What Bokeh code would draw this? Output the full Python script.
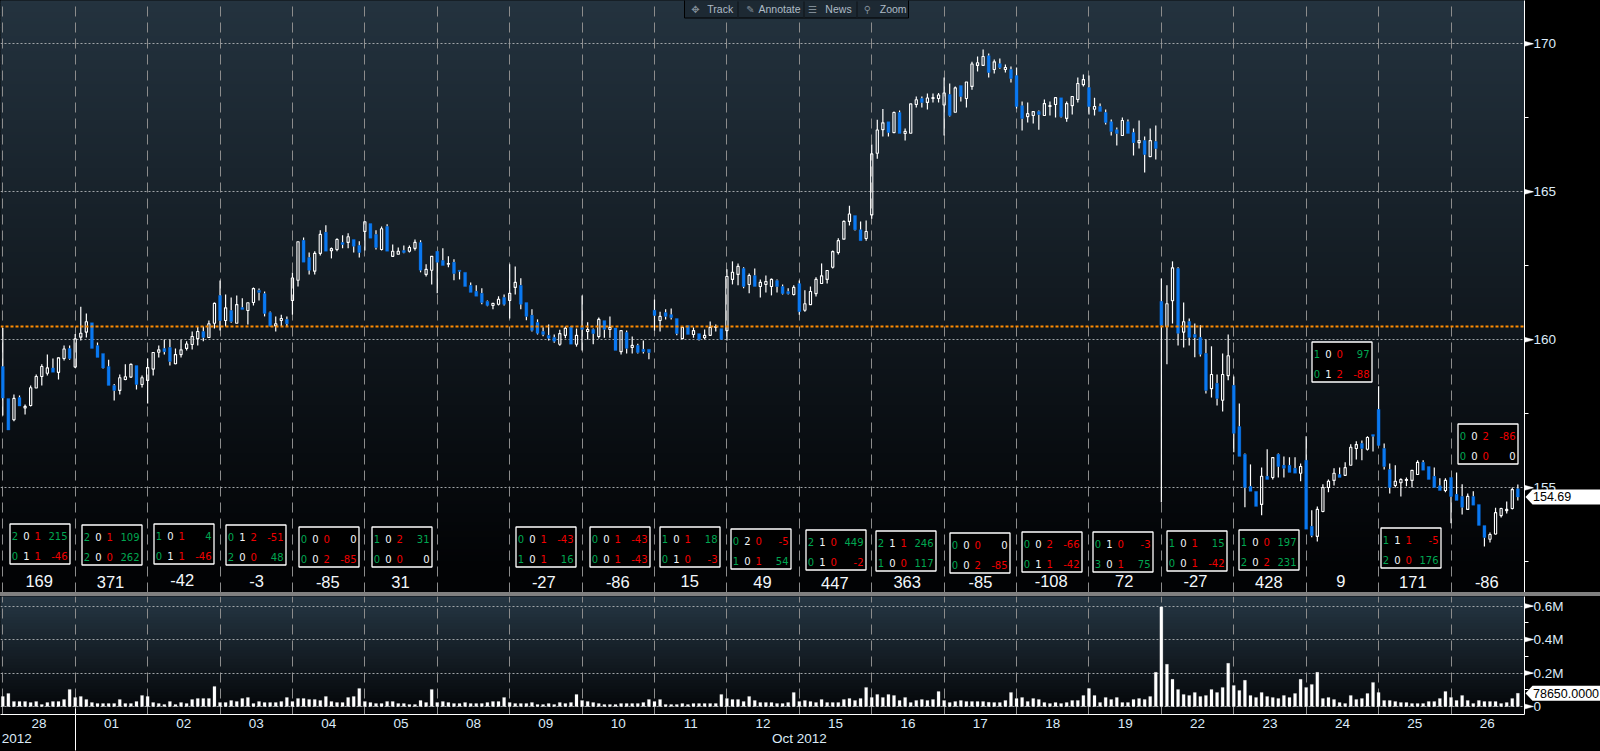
from bokeh.plotting import figure
from bokeh.models import (FixedTicker, Range1d, Span, Spacer, LinearAxis)
from bokeh.layouts import column
from bokeh.core.properties import value
from bokeh.embed import file_html
from bokeh.resources import INLINE

# ---------- data ----------
days = ["28","01","02","03","04","05","08","09","10","11","12","15","16","17","18","19","22","23","24","25","26"]

opens = [
159.10,158.02,157.30,158.05,157.70,157.78,158.37,158.76,158.87,159.05,158.90,159.37,159.71,
159.08,160.09,160.26,160.58,159.81,159.54,159.10,158.46,158.29,158.66,158.74,159.13,158.49,
158.63,159.01,159.58,159.71,159.74,159.19,159.50,159.71,159.84,160.04,160.28,160.08,160.56,
161.50,160.65,160.99,160.56,161.09,160.99,161.26,161.67,161.56,160.92,160.47,160.65,160.69,
161.33,162.01,163.36,162.78,162.32,162.92,163.63,163.01,163.05,163.29,163.29,163.39,163.19,
163.66,163.93,163.56,163.05,163.83,162.82,162.89,163.02,162.99,163.09,163.29,162.21,162.35,
162.99,162.68,162.55,162.62,162.35,162.28,161.84,161.64,161.57,161.30,161.16,161.20,161.43,
161.33,161.77,161.84,161.26,160.83,160.59,160.28,160.15,160.08,159.85,160.15,160.43,159.85,
160.42,160.28,160.35,160.11,160.65,160.35,160.40,159.60,160.25,159.74,159.81,159.68,159.68,
161.00,160.65,160.92,160.85,160.72,160.04,160.48,160.18,160.21,160.07,160.15,160.42,160.38,
160.31,162.04,162.21,162.41,161.87,162.17,161.80,161.87,161.80,162.00,161.80,161.63,161.53,
161.90,161.00,161.19,161.56,161.90,162.04,162.45,162.95,163.40,164.00,164.20,163.72,163.42,
164.22,166.30,167.10,167.37,167.00,167.68,166.97,166.98,167.95,168.15,168.02,168.15,168.15,
167.93,168.29,167.69,168.59,168.15,168.56,169.27,169.27,169.60,169.13,169.33,169.13,169.13,
168.93,167.91,167.54,167.58,167.71,167.58,167.88,167.95,168.18,167.48,167.91,168.12,168.62,
168.52,167.79,167.88,167.68,167.37,167.10,166.90,167.37,167.00,166.66,166.73,166.19,166.70,
161.30,160.45,161.32,162.41,160.26,160.62,160.18,160.08,159.54,158.35,158.53,157.96,158.79,
158.46,157.07,156.13,155.05,154.88,154.44,155.39,155.35,156.13,155.76,155.76,155.66,155.49,
155.93,153.70,153.36,154.20,155.01,155.25,155.45,155.42,155.76,156.33,156.50,156.30,156.80,
157.65,156.33,155.62,155.08,155.17,155.25,155.25,155.45,155.86,155.72,155.39,155.07,154.91,
155.35,154.78,154.71,154.27,154.71,154.44,153.73,153.26,153.44,154.06,154.23,154.30,154.97]

highs = [
160.40,158.02,158.15,158.12,157.81,158.46,158.83,159.17,159.50,159.37,159.41,159.81,159.81,
160.20,161.12,160.89,160.58,159.91,159.54,159.33,158.51,158.83,159.17,159.20,159.13,158.79,
159.37,159.57,159.81,160.01,160.01,159.71,160.00,159.95,160.28,160.43,160.45,160.65,161.26,
162.00,161.53,161.43,161.50,161.40,161.25,161.77,161.73,161.63,160.96,160.79,160.85,160.79,
162.27,163.31,163.46,162.95,162.99,163.70,163.87,163.12,163.43,163.53,163.60,163.39,163.33,
163.99,163.93,163.70,163.83,163.90,163.22,163.12,163.19,163.19,163.39,163.36,162.55,162.82,
162.99,163.09,162.82,162.72,162.35,162.28,161.94,161.84,161.74,161.33,161.23,161.47,161.53,
162.55,162.48,162.08,161.26,161.03,160.69,160.42,160.52,160.18,160.34,160.45,160.45,160.38,
161.50,160.59,160.38,160.75,160.65,160.79,160.40,160.31,160.31,160.11,159.87,159.98,159.68,
161.36,160.95,161.03,161.06,160.72,160.45,160.48,160.42,160.21,160.35,160.62,160.52,160.38,
162.38,162.65,162.58,162.45,162.24,162.41,162.04,162.17,162.07,162.04,161.87,161.74,161.84,
162.00,161.67,161.80,162.11,162.58,162.34,163.02,163.43,164.03,164.53,164.20,164.00,164.03,
166.60,167.43,167.80,167.37,167.71,167.75,167.14,167.97,168.22,168.22,168.32,168.32,168.34,
168.86,168.66,168.56,168.59,168.71,169.39,169.57,169.81,169.67,169.47,169.50,169.30,169.23,
169.20,168.05,168.02,167.71,167.75,168.12,168.05,168.18,168.18,168.05,168.22,168.86,168.96,
168.93,168.18,167.98,167.78,167.44,167.17,167.51,167.44,167.14,167.41,166.87,167.14,167.24,
162.07,161.84,162.65,162.45,161.26,160.72,160.55,160.49,160.01,159.78,158.83,159.54,160.18,
158.76,157.85,156.16,155.79,154.88,155.69,156.30,156.02,156.16,156.06,156.03,156.03,155.82,
156.74,154.24,154.37,155.12,155.28,155.66,155.69,155.86,156.47,156.57,156.60,156.74,156.80,
158.43,156.50,155.82,155.76,155.32,155.35,155.59,155.93,155.93,155.72,155.69,155.32,155.32,
155.35,155.52,155.12,154.81,154.88,154.44,153.73,153.49,154.33,154.33,154.54,155.01,155.11]

lows = [
157.44,156.95,157.25,157.76,157.48,157.75,158.37,158.46,158.79,158.90,158.66,159.30,159.33,
159.05,159.98,160.08,159.71,159.40,159.03,158.46,157.95,158.15,158.63,158.73,158.32,158.39,
157.85,158.79,159.40,159.50,159.13,159.17,159.40,159.64,159.67,159.81,159.95,160.08,160.38,
160.31,160.45,160.58,160.56,161.02,160.52,161.16,161.33,160.79,160.45,160.28,160.47,160.45,
160.85,161.80,162.62,162.21,162.21,162.85,162.99,162.75,162.99,163.09,163.09,162.95,162.78,
163.02,163.43,163.05,163.02,162.99,162.82,162.89,162.92,162.95,163.02,162.28,162.14,161.87,
161.57,162.51,162.45,162.01,162.04,161.80,161.60,161.47,161.20,161.13,161.03,161.16,161.16,
160.72,161.53,161.03,160.66,160.28,160.18,160.12,159.98,159.90,159.80,160.05,159.85,159.77,
159.64,160.01,159.85,160.04,160.07,160.07,159.64,159.50,159.54,159.54,159.54,159.54,159.34,
160.31,160.28,160.69,160.69,160.15,160.04,160.18,160.07,159.98,160.01,160.15,160.28,160.01,
159.98,161.87,161.84,161.74,161.57,161.80,161.43,161.60,161.50,161.60,161.53,161.53,161.50,
160.85,160.95,161.19,161.46,161.90,161.90,162.41,162.88,163.40,163.86,163.69,163.35,163.35,
164.09,166.12,166.87,166.87,167.00,166.97,166.73,166.98,167.85,167.85,167.78,168.02,168.02,
166.90,167.54,167.69,168.05,167.85,168.45,169.06,169.27,168.86,169.00,169.16,169.03,168.69,
167.81,167.07,167.34,167.31,167.10,167.58,167.58,167.51,167.51,167.37,167.61,168.02,168.56,
167.61,167.58,167.71,167.27,166.90,166.56,166.90,166.97,166.23,166.46,165.65,166.19,166.09,
154.51,159.17,160.55,159.81,159.74,159.81,159.41,159.44,158.19,158.05,157.78,157.58,158.63,
156.20,156.06,154.34,154.88,154.37,154.07,155.28,155.28,155.35,155.35,155.52,155.49,155.22,
153.60,153.33,153.19,154.17,154.85,155.08,155.35,155.42,155.76,155.96,155.93,156.26,156.23,
156.43,155.62,154.81,155.01,154.71,155.05,155.01,155.45,155.59,155.28,155.01,154.91,154.85,
153.80,154.57,154.10,154.27,154.41,153.73,153.02,153.15,153.42,154.00,154.13,154.27,154.57]

closes = [
158.03,156.95,158.02,157.76,157.75,158.38,158.76,159.10,159.05,158.90,159.39,159.69,159.37,
160.03,160.22,160.61,159.71,159.40,159.05,158.46,158.29,158.72,158.75,159.17,158.49,158.72,
159.06,159.57,159.66,159.60,159.27,159.50,159.66,159.86,160.11,160.28,160.08,160.54,161.23,
160.65,161.08,160.62,161.19,161.02,161.25,161.73,161.60,160.89,160.47,160.54,160.72,160.54,
162.09,163.31,162.62,162.35,162.92,163.56,162.99,163.08,163.39,163.22,163.48,163.16,162.95,
163.99,163.43,163.12,163.75,162.99,162.99,162.99,162.95,163.12,163.29,162.35,162.38,162.82,
162.62,162.51,162.58,162.24,162.31,161.80,161.60,161.47,161.26,161.16,161.23,161.37,161.20,
161.57,161.94,161.20,160.79,160.32,160.22,160.18,160.05,159.95,160.21,160.39,159.85,160.15,
160.35,160.35,160.21,160.69,160.35,160.42,159.64,160.31,159.71,159.81,159.57,159.60,159.57,
160.82,160.79,160.79,160.75,160.21,160.42,160.18,160.31,160.01,160.15,160.42,160.45,160.01,
162.14,162.28,162.48,161.80,162.17,161.80,161.94,161.97,162.04,161.80,161.56,161.56,161.77,
160.95,161.22,161.63,162.04,162.16,162.34,162.98,163.35,164.00,164.25,163.72,163.35,163.66,
166.28,167.09,167.33,167.00,167.68,166.97,167.04,167.97,168.11,168.02,168.17,168.18,168.27,
168.34,167.58,168.51,168.22,168.71,169.32,169.36,169.57,169.03,169.39,169.20,169.20,168.83,
167.88,167.48,167.64,167.71,167.61,167.98,167.91,168.18,167.54,167.98,168.22,168.66,168.79,
167.88,167.88,167.71,167.34,167.04,166.97,167.41,166.97,166.66,166.73,166.26,166.73,166.46,
160.49,161.22,162.43,160.22,160.61,160.08,160.08,159.51,158.29,158.83,158.02,158.83,159.46,
156.84,156.06,155.01,154.88,154.37,155.39,155.28,156.02,155.72,155.66,155.52,155.49,155.72,
153.60,153.39,154.27,155.01,155.22,155.49,155.35,155.68,156.37,156.46,156.33,156.70,156.74,
156.43,155.72,155.01,155.22,155.28,155.28,155.59,155.86,155.59,155.28,155.01,154.91,155.25,
154.71,154.57,154.34,154.71,154.41,153.73,153.32,153.42,154.16,154.30,154.27,154.94,154.69]

volumes_k = [
60,78,30,30,30,24,30,12,24,30,30,42,102,
54,60,42,24,18,18,18,18,42,18,18,30,66,
60,24,18,12,30,12,24,18,42,48,48,48,120,
24,24,36,30,48,54,18,30,24,24,24,30,54,
30,48,48,42,42,36,60,30,24,24,54,60,108,
30,24,18,18,30,30,18,18,12,12,36,24,102,
24,30,24,18,18,24,18,18,18,24,30,30,54,
24,18,18,18,24,12,12,18,12,24,18,24,72,
36,30,24,18,12,12,12,18,18,18,18,24,42,
30,42,12,12,12,18,12,18,18,18,18,18,72,
48,42,42,30,60,36,24,24,24,18,18,24,84,
30,36,30,24,42,24,24,24,42,48,36,48,114,
54,72,54,72,66,36,54,24,36,42,36,42,90,
36,24,30,36,30,30,30,30,26,24,24,36,84,
48,54,30,48,42,24,18,24,18,24,36,36,66,
108,66,24,54,42,54,24,24,42,48,42,60,204,
594,252,162,102,72,66,84,60,66,102,84,114,258,
126,96,156,66,54,84,60,54,48,66,54,78,162,
114,132,204,48,54,42,24,18,66,42,48,78,144,
84,36,36,30,24,24,18,18,18,30,30,48,90,
54,36,66,36,18,36,30,30,30,18,24,48,78.65]

day_totals = {"28":169,"01":371,"02":-42,"03":-3,"04":-85,"05":31,"09":-27,"10":-86,"11":15,"12":49,
              "15":447,"16":363,"17":-85,"18":-108,"19":72,"22":-27,"23":428,"24":9,"25":171,"26":-86}

box_days = ["28","01","02","03","04","05","09","10","11","12","15","16","17","18","19","22","23","24","25","26"]
box_row1 = [(2,0,1,215),(2,0,1,109),(1,0,1,4),(0,1,2,-51),(0,0,0,0),(1,0,2,31),(0,0,1,-43),(0,0,1,-43),(1,0,1,18),(0,2,0,-5),
            (2,1,0,449),(2,1,1,246),(0,0,0,0),(0,0,2,-66),(0,1,0,-3),(1,0,1,15),(1,0,0,197),(1,0,0,97),(1,1,1,-5),(0,0,2,-86)]
box_row2 = [(0,1,1,-46),(2,0,0,262),(0,1,1,-46),(2,0,0,48),(0,0,2,-85),(0,0,0,0),(1,0,1,16),(0,0,1,-43),(0,1,0,-3),(1,0,1,54),
            (0,1,0,-2),(1,0,0,117),(0,0,2,-85),(0,1,1,-42),(3,0,1,75),(0,0,1,-42),(2,0,2,231),(0,1,2,-88),(2,0,0,176),(0,0,0,0)]

last_price = 154.69
reference_price = 160.45
last_volume_k = 78.65

# ---------- layout (pixels of the 1600x751 picture) ----------
box_left = [9.5,81.5,153.5,225.5,298.5,371.5,515.5,589.5,659.5,730.5,805.5,875.5,949.5,1021.5,1092.5,1166.5,1238.5,1311.5,1380.5,1457.5]
box_top  = [523.5,524.5,523.5,524.5,526.5,526.5,526.5,526.5,526.5,528.5,529.5,530.5,532.5,531.5,531.5,530.5,529.5,341.5,527.5,423.5]
total_x  = [38.7,110,181.7,256,327.3,400,543.3,617.3,689.3,762,834.3,906.7,980,1050.7,1123.7,1195,1268.3,1340.3,1412.3,1486.3]
total_y  = [580,581,579.3,580.3,581.3,581.3,581.3,581.3,580.3,581.3,582.3,581.3,581.3,580.3,580.3,580.3,581.3,580.3,581.3,581.3]

W, H = 1600, 751
FRAME_R = 1524
MAIN_H = 592
VOL_TOP, VOL_BOT = 596, 714
BAR_PX = 5.57
X0 = 2.3

x_range = Range1d(-X0 / BAR_PX, (FRAME_R - X0) / BAR_PX)
px_x = lambda p: (p - X0) / BAR_PX
PX_PER_UNIT = 29.6
px_y = lambda p: 170 - (p - 43.3) / PX_PER_UNIT
price_px = lambda v: 43.3 + (170 - v) * PX_PER_UNIT
PX_PER_K = 33.5 / 200
vpx_y = lambda p: (706 - p) / PX_PER_K
vol_px = lambda v: 706 - v * PX_PER_K

FONT = "Liberation Sans"
LABEL_COL = "#dcebf8"
WHITE, BLUE = "#ffffff", "#0a78f0"
GREEN, RED = "#00a651", "#f00000"

n = len(closes)
assert len(opens) == len(highs) == len(lows) == n == len(volumes_k) == 273, (len(opens), len(highs), len(lows), n, len(volumes_k))
idx = list(range(n))
seps = [13 * i for i in range(len(days))]


def gradient(p, top_px, bot_px, c0, c1, to_y, step=3):
    ys = list(range(top_px, bot_px, step))
    cols = []
    for y in ys:
        t = min(1.0, (y - top_px) / (bot_px - top_px))
        cols.append("#%02x%02x%02x" % tuple(int(a + (b - a) * t) for a, b in zip(c0, c1)))
    p.quad(left=x_range.start, right=x_range.end,
           top=[to_y(y) for y in ys], bottom=[to_y(y + step) for y in ys],
           fill_color=cols, line_color=cols, line_width=1, level="image")


def style_frame(p):
    p.min_border_left = 0
    p.min_border_top = 0
    p.min_border_right = W - FRAME_R
    p.outline_line_color = None
    p.background_fill_color = "#000000"
    p.border_fill_color = "#000000"
    p.xgrid.ticker = FixedTicker(ticks=seps)
    p.xgrid.grid_line_color = "#8c8c8c"
    p.xgrid.grid_line_dash = "10 6"
    p.xgrid.grid_line_width = 1


def style_right_axis(ax, major, minor, overrides):
    ax.ticker = FixedTicker(ticks=major, minor_ticks=minor)
    ax.major_label_overrides = overrides
    ax.axis_line_color = WHITE
    ax.major_tick_line_color = WHITE
    ax.minor_tick_line_color = WHITE
    ax.major_tick_out = 8
    ax.major_tick_in = 0
    ax.minor_tick_out = 4
    ax.minor_tick_in = 0
    ax.major_label_standoff = 1
    ax.major_label_text_color = LABEL_COL
    ax.major_label_text_font = FONT
    ax.major_label_text_font_size = "13.5px"
    ax.major_label_orientation = "horizontal"


# ---------- main panel ----------
main = figure(width=W, height=MAIN_H, x_range=x_range, y_range=Range1d(px_y(MAIN_H), px_y(0)),
              toolbar_location=None, output_backend="svg", y_axis_location="right")
style_frame(main)
main.min_border_bottom = 0
main.xaxis.visible = False
main.ygrid.ticker = FixedTicker(ticks=[155, 160, 165, 170])
main.ygrid.grid_line_color = "#a0a4a8"
main.ygrid.grid_line_dash = "2 2"
main.ygrid.grid_line_width = 1
gradient(main, 0, 570, (36, 51, 63), (2, 3, 5), px_y)
main.quad(left=x_range.start, right=x_range.end, top=px_y(570), bottom=px_y(MAIN_H),
          fill_color="#020305", line_color="#020305", level="image")

price_major = [155, 160, 165, 170]
style_right_axis(main.yaxis[0], price_major, [152.5, 157.5, 162.5, 167.5],
                 {155: "155", 160: "160", 165: "165", 170: "170"})

up = [i for i in idx if closes[i] >= opens[i]]
down = [i for i in idx if closes[i] < opens[i]]
top = [max(opens[i], closes[i]) for i in idx]
bot = [min(opens[i], closes[i]) for i in idx]

main.segment(x0=idx, x1=idx, y0=highs, y1=top, line_color=WHITE, line_width=1.2)
main.segment(x0=idx, x1=idx, y0=bot, y1=lows, line_color=WHITE, line_width=1.2)
main.vbar(x=up, width=2.2 / BAR_PX, top=[top[i] for i in up], bottom=[bot[i] for i in up],
          fill_alpha=0, line_color=WHITE, line_width=1.1)
main.vbar(x=down, width=3 / BAR_PX, top=[top[i] for i in down], bottom=[bot[i] for i in down],
          fill_color=BLUE, line_color=BLUE, line_width=0.3)

# summary boxes
main.quad(left=[px_x(v) for v in box_left], right=[px_x(v + 60) for v in box_left],
          top=[px_y(v) for v in box_top], bottom=[px_y(v + 40) for v in box_top],
          fill_color="#000000", line_color="#ffffff", line_width=1.3)

dx, dy, dt, dc = [], [], [], []
vx, vy, vt, vc = [], [], [], []
for left, tp, r1, r2 in zip(box_left, box_top, box_row1, box_row2):
    for row, off in ((r1, 12.3), (r2, 32.3)):
        for digit, rel, col in zip(row[:3], (5, 16.5, 27.7), (GREEN, "#f4f6f8", RED)):
            dx.append(px_x(left + rel)); dy.append(px_y(tp + off)); dt.append(str(digit)); dc.append(col)
        val = row[3]
        vx.append(px_x(left + 57.5)); vy.append(px_y(tp + off)); vt.append(str(val))
        vc.append(GREEN if val > 0 else RED if val < 0 else "#f4f6f8")
main.text(x=dx, y=dy, text=dt, text_color=dc, text_align="center", text_baseline="middle",
          text_font=value("DejaVu Sans"), text_font_size="10px")
main.text(x=vx, y=vy, text=vt, text_color=vc, text_align="right", text_baseline="middle",
          text_font=value("DejaVu Sans"), text_font_size="10px")

main.text(x=[px_x(v) for v in total_x], y=[px_y(v) for v in total_y],
          text=[str(day_totals[d]) for d in box_days], text_color="#f4f8fc", text_align="center",
          text_baseline="middle", text_font=value(FONT), text_font_size="16.5px")

main.add_layout(Span(location=reference_price, dimension="width", line_color="#ff8c00",
                     line_dash="3 2", line_width=2, level="overlay"))

# toolbar at the top of the page
tool_names = ["Track", "Annotate", "News", "Zoom"]
tool_x = [719.7, 779, 838, 892.7]
icon_names = ["\u2725", "\u270e", "\u2630", "\u26b2"]
icon_x = [695, 750, 812, 867]
main.quad(left=px_x(684), right=px_x(908), top=px_y(-1), bottom=px_y(17.5), fill_color="#1d2933", line_color="#000000", line_width=1)
main.segment(x0=[px_x(v) for v in (737.5, 803.5, 856.5)], x1=[px_x(v) for v in (737.5, 803.5, 856.5)],
             y0=px_y(1), y1=px_y(17), line_color="#151d24", line_width=2)
main.text(x=[px_x(v) for v in tool_x], y=px_y(8.8), text=tool_names, text_color="#aebbc6", text_align="center",
          text_baseline="middle", text_font=value(FONT), text_font_size="10.5px")
main.text(x=[px_x(v) for v in icon_x], y=px_y(8.8), text=icon_names, text_color="#808c96", text_align="center",
          text_baseline="middle", text_font=value("DejaVu Sans"), text_font_size="10px")

# ---------- divider ----------
divider = Spacer(width=W, height=VOL_TOP - MAIN_H, styles={"background-color": "#808080"})

# ---------- volume panel ----------
vol = figure(width=W, height=H - VOL_TOP, x_range=x_range, y_range=Range1d(vpx_y(VOL_BOT), vpx_y(VOL_TOP)),
             toolbar_location=None, output_backend="svg", y_axis_location="right")
style_frame(vol)
vol.min_border_bottom = H - VOL_BOT
vol.ygrid.ticker = FixedTicker(ticks=[0, 200, 400, 600])
vol.ygrid.grid_line_color = "#a0a4a8"
vol.ygrid.grid_line_dash = "2 2"
vol.ygrid.grid_line_width = 1
gradient(vol, VOL_TOP, VOL_BOT, (38, 55, 68), (3, 4, 6), vpx_y)

vol_major = [0, 200, 400, 600]
style_right_axis(vol.yaxis[0], vol_major, [100, 300, 500],
                 {0: "0", 200: "0.2M", 400: "0.4M", 600: "0.6M"})
vol.vbar(x=idx, width=3 / BAR_PX, top=volumes_k, bottom=0, fill_color=WHITE, line_color=WHITE, line_width=0.2)

ax = vol.xaxis[0]
day_pos = [13 * i + 6.5 for i in range(len(days))]
ax.ticker = FixedTicker(ticks=day_pos)
ax.major_label_overrides = dict(zip(day_pos, days))
ax.axis_line_color = WHITE
ax.major_tick_line_color = None
ax.minor_tick_line_color = None
ax.major_tick_out = 0
ax.major_tick_in = 0
ax.major_label_standoff = 4
ax.major_label_text_color = LABEL_COL
ax.major_label_text_font = FONT
ax.major_label_text_font_size = "13.5px"

# second row of the date axis: the year and the month
year_axis = LinearAxis(ticker=FixedTicker(ticks=[2.5, 143]),
                       major_label_overrides={2.5: "2012", 143: "Oct 2012"},
                       axis_line_color=None, major_tick_line_color=None, minor_tick_line_color=None,
                       major_tick_out=0, major_tick_in=0, major_label_standoff=0,
                       major_label_text_color=LABEL_COL, major_label_text_font=FONT,
                       major_label_text_font_size="13.5px")
vol.add_layout(year_axis, "below")

# the year boundary between 28 Sep and 01 Oct
boundary_axis = LinearAxis(ticker=FixedTicker(ticks=[13]), major_label_overrides={13: ""},
                           axis_line_color=None, major_tick_line_color=WHITE, minor_tick_line_color=None,
                           major_tick_in=40, major_tick_out=2, major_label_standoff=0,
                           major_label_text_font_size="1px")
vol.add_layout(boundary_axis, "below")

# ---------- right gutter: pointers on the ticks and the latest-value flags ----------
gutter = figure(width=W - FRAME_R, height=H, x_range=Range1d(0, W - FRAME_R), y_range=Range1d(H, 0),
                toolbar_location=None, output_backend="svg", min_border=0,
                background_fill_color=None, border_fill_color=None, outline_line_color=None,
                x_axis_location=None, y_axis_location=None,
                styles={"position": "fixed", "left": f"{FRAME_R}px", "top": "0"})
gutter.grid.visible = False

tick_y = [price_px(v) for v in price_major] + [vol_px(v) for v in vol_major]
gutter.patches(xs=[[0, 9, 0] for _ in tick_y], ys=[[y - 2.5, y, y + 2.5] for y in tick_y],
               fill_color=WHITE, line_color=WHITE, line_width=0.5)

flag_y = [price_px(last_price), vol_px(last_volume_k)]
flag_text = [f"{last_price:.2f}", f"{last_volume_k * 1000:.4f}"]
gutter.patches(xs=[[1, 8, 76, 76, 8] for _ in flag_y],
               ys=[[y, y - 7.5, y - 7.5, y + 7.5, y + 7.5] for y in flag_y],
               fill_color=WHITE, line_color=WHITE, line_width=0)
gutter.text(x=8.5, y=flag_y, text=flag_text, text_color="#000000", text_baseline="middle",
            text_font=value(FONT), text_font_size="12.5px")

page = column(main, divider, vol, spacing=0, styles={"position": "fixed", "left": "0", "top": "0", "background-color": "#000000"})
open("out.html", "w").write(file_html([page, gutter], INLINE))
